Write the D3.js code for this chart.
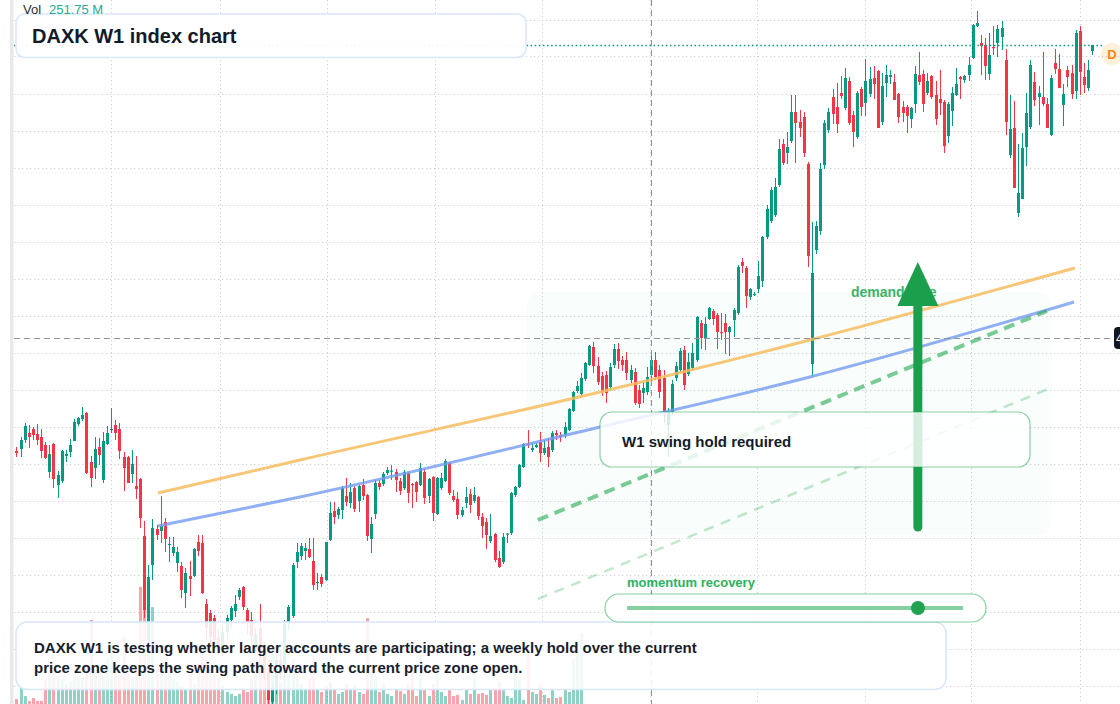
<!DOCTYPE html>
<html>
<head>
<meta charset="utf-8">
<script src="https://cdn.jsdelivr.net/npm/d3@7"></script>
<style>
  body { margin: 0; background: #fff; }
  svg { display: block; font-family: "Liberation Sans", Arial, sans-serif; }
</style>
</head>
<body>
<div id="container"></div>
<script>
let w = 1120;
let h = 704;

// weekly candles, first bar of the series
let startWeek = new Date(2019, 0, 21);

let opens = [
  369,371,380,387,391,386,383,375,348,376, 335,339,364,368,379,396,401,407,358,352,
  373,340,376,390,395,391,363,363,346,334, 341,284,180,255,291,289,298,275,267,257,
  254,227,244,244,278,277,216,207,202,182, 172,188,200,209,223,233,210,200,172,192,
  170,148,118,132,160,148,197,204,258,264, 269,271,259,237,243,240,280,309,305,310,
  324,317,332,319,335,325,281,306,337,336, 347,349,348,339,332,347,336,338,335,348,
  324,343,306,332,339,357,324,321,305,317, 326,319,323,303,298,279,286,262,258,286,
  287,325,333,353,376,370,373,378,367,373, 370,387,385,385,390,409,429,426,441,455,
  473,454,444,445,433,455,471,460,460,440, 448,430,427,428,445,460,450,442,395,408,
  442,450,470,446,452,460,497,482,501,509, 505,488,497,488,500,507,558,552,523,525.5,
  531,539,583,599,605,635,676,667,679,708, 698,703,656,456,570,589,655,690,723,713,
  727,712,739,705,683,731,717,726,742,749, 698,737,743,738,726,713,713,701,716,745,
  746,727,744,725,721,718,684,709,725,743, 740,745,762,794,777,775,746,773,777,783,
  760,665,692,607,621,673,693,738,723,723, 716,685,757,751,715,750,747,729,789,743,732,769
];
let highs = [
  373,383,397,395,393,396,391,378,375,377, 349,370,370,381,401,403,413,408,364,383,
  382,388,394,412,400,397,368,364,370,364, 342,299,255,301,295,324,302,283,283,273,
  258,252,259,272,285,285,221,210,205,190, 194,205,214,225,232,234,212,208,192,216,
  175,152,136,165,170,200,215,257,277,277, 277,282,282,247,246,278,318,318,313,334,
  342,337,334,335,341,326,303,340,340,348, 353,355,351,342,350,348,337,339,357,351,
  342,344,343,347,361,358,330,328,313,333, 331,333,324,307,302,306,287,269,287,287,
  328,334,356,377,390,377,377,388,380,382, 389,390,388,398,412,429,439,447,458,475,
  478,463,448,449,457,476,477,464,468,455, 452,435,438,453,465,468,455,450,412,440,
  458,472,474,467,477,504,500,503,513,511, 507,507,506,494,512,555,562,554,532,528,
  559,584,615,633,642,681,681,688,725,725, 710,708,658,598,599,657,700,712,731,737,
  744,752,743,709,729,733,761,753,754,750, 747,755,750,746,727,719,715,713,754,768,
  750,747,745,739,750,720,718,733,752,744, 745,763,796,809,785,782,787,794,795,799,
  771,725,719,676,687,727,760,748,734,768, 722,745,771,766,736,754,755,790,794,757,760,775
];
let lows = [
  363,363,377,372,380,375,362,361,342,332, 322,337,358,363,379,394,399,346,333,341,
  355,337,375,387,380,361,329,337,337,321, 292,202,170,240,280,277,268,258,264,248,
  222,212,224,243,264,226,180,172,170,165, 164,180,192,203,220,210,186,175,165,162,
  140,116,114,126,140,142,190,202,252,260, 260,262,230,230,233,239,279,296,301,301,
  314,312,308,308,320,279,267,301,330,334, 345,340,328,325,330,317,312,318,334,316,
  317,299,305,330,338,325,318,301,303,312, 307,317,300,282,271,277,258,252,256,277,
  285,323,332,352,372,368,372,358,365,353, 368,380,378,382,389,408,427,424,439,454,
  447,435,424,417,430,452,451,449,440,437, 415,412,417,425,436,440,422,397,363,405,
  439,448,430,444,449,458,471,470,500,495, 471,480,466,464,483,505,547,512,520,524,
  527,533,581,597,603,633,655,656,677,657, 683,663,553,443,566,585,651,687,696,687,
  721,710,695,673,681,704,704,723,721,692, 695,723,736,720,697,698,687,692,707,735,
  708,725,721,695,705,667,677,694,724,721, 737,739,761,793,745,740,740,765,763,770,
  685,662,632,603,621,654,691,714,695,714, 692,684,746,732,694,733,721,721,725,727,729,765
];
let closes = [
  367,380,394,383,385,380,369,362,366,341, 345,369,366,375,398,402,405,347,342,371,
  365,379,387,391,387,369,352,337,356,331, 302,210,243,292,285,294,281,276,273,268,
  230,247,241,271,269,227,192,183,180,174, 188,202,212,216,230,213,198,184,186,170,
  148,120,132,160,145,196,213,255,268,274, 272,263,235,238,236,278,307,303,311,332,
  318,328,311,334,324,284,296,337,333,346, 350,349.5,340,329,348,327,335,328,352,322,
  341,307,342,342,359,327,320,305,310,323, 315,325,304,294,285,284,260,253,283,286.5,
  327,333,355,376,375,372,375,367,372,363, 387,385,383,393,411,428,434,442,457,474,
  454,438,428,427,453,471,459,455,447,450, 417,416,432,443,460,443,428,408,408,436,
  454,469,435,458,467,503,482,496,512,501, 488,487,488,493,510,553,554,524,531,526,
  544,583,611,630,633,671,657,673,708,697, 692,667,564,547,594,651,697,708,706,696,
  724,742,697,688,727,713,739,741,736,692, 734,745,745,720,703,707,704,712,746,738,
  716,739,723,701,717,674,716,727,736,741, 744,755,795,797,774,754,765,772.5,791,792,
  698,691,632,627,672,707,755,720,727,716, 692,742,751,732,726,743,726,787,748,735,750,775
];
// volume in millions, only the older weeks carry volume in this feed
let volumes = [
  21,67,33,12,25,12,13,104,125,146, 117,104,83,92,125,117,112,167,350,146,
  133,117,188,250,167,146,279,125,104,158, 488,396,354,404,167,146,117,125,104,92,
  75,62,125,83,146,208,188,146,125,104, 75,50,42,33,42,62,50,104,125,250,
  167,188,208,83,92,117,125,188,104,83, 62,104,192,62,50,75,92,62,42,50,
  83,62,75,50,42,358,125,104,50,83, 42,33,62,54,42,83,129,33,204,62,
  33,83,167,50,33,58,33,38,17,58, 42,129,42,46,38,58,58,92,58,33,
  25,125,104,17,229,50,42,83,38,25, 58,25,29,62,50,188,229,296
];
let lastVolume = 251.75;

let gridPrices = [800.5,763.5,726.5,689.5,652.5,615.5,578.5,541.5,504.5,467.5,430.5,393.5,356.5,319.5,282.5,245.5,208.5,171.5,134.5];
let crossIndex = 154;
let crossPrice = 482;

// trend lines as [week index, price]
let upperTrend = [[34.35,327],[68.8,360],[141.6,428],[192.5,480],[256.8,552]];
let lowerTrend = [[34.35,294],[68.8,323],[141.6,393],[192.5,443],[256.6,518]];
let supportDash = [[126.5,300],[250,509]];
let supportThin = [[126.5,221],[250.3,431]];
let demandZone = {from: 123.9, to: 251.2, top: 528, bottom: 285};
let arrowIndex = 218.7;
let arrowFrom = 293;
let arrowTo = 558;
let momentum = 0.866;

let green = "#089981";
let red = "#f23645";

let dates = opens.map((d, i) => d3.timeDay.offset(startWeek, 7 * i));
function weekDate(idx) {
  return new Date(+startWeek + idx * 7 * 864e5);
}

let x = d3.scaleTime().domain([dates[0], dates[dates.length - 1]]).range([16.4, 1092.2]);
let y = d3.scaleLinear().domain([116, 820]).range([704, 0]);
let yVol = d3.scaleLinear().domain([0, 500]).range([704, 584]);

function getColor(d) {
  return d.c >= d.o ? green : red;
}

let viz = d3.select("#container").append("svg")
  .attr("width", w)
  .attr("height", h);

viz.append("rect").attr("width", w).attr("height", h).attr("fill", "#fff");
viz.append("rect").attr("x", 10).attr("y", 0).attr("width", 3.5).attr("height", h).attr("fill", "#e9e9ea");

// grid
viz.selectAll(".hgrid").data(gridPrices).enter().append("line")
  .attr("x1", 14).attr("x2", w)
  .attr("y1", d => Math.round(y(d)) + 0.5).attr("y2", d => Math.round(y(d)) + 0.5)
  .attr("stroke", "#cfd2d8").attr("stroke-dasharray", "1.3,2.7");
viz.selectAll(".vgrid").data(x.ticks(d3.timeMonth.every(6))).enter().append("line")
  .attr("x1", d => Math.round(x(d)) + 0.5).attr("x2", d => Math.round(x(d)) + 0.5)
  .attr("y1", 0).attr("y2", h)
  .attr("stroke", "#cfd2d8").attr("stroke-dasharray", "1.3,2.7");

// demand zone
viz.append("rect")
  .attr("x", x(weekDate(demandZone.from))).attr("y", y(demandZone.top))
  .attr("width", x(weekDate(demandZone.to)) - x(weekDate(demandZone.from)))
  .attr("height", y(demandZone.bottom) - y(demandZone.top))
  .attr("rx", 14)
  .attr("fill", "rgba(34,197,94,0.028)");

let candles = dates.map((d, i) => ({date: d, o: opens[i], h: highs[i], l: lows[i], c: closes[i], v: volumes[i]}));

// volume
viz.selectAll(".vol").data(candles.filter(d => d.v != undefined)).enter().append("rect")
  .attr("x", d => Math.round(x(d.date)) - 1).attr("width", 3)
  .attr("y", d => yVol(d.v)).attr("height", d => h - yVol(d.v))
  .attr("fill", getColor).attr("opacity", 0.45);

// candles
viz.selectAll(".wick").data(candles).enter().append("line")
  .attr("x1", d => Math.round(x(d.date)) + 0.5).attr("x2", d => Math.round(x(d.date)) + 0.5)
  .attr("y1", d => y(d.h)).attr("y2", d => y(d.l))
  .attr("stroke", getColor).attr("stroke-width", 1);
viz.selectAll(".body").data(candles).enter().append("rect")
  .attr("x", d => Math.round(x(d.date)) - 1).attr("width", 3)
  .attr("y", d => y(Math.max(d.o, d.c)))
  .attr("height", d => Math.max(1.2, Math.abs(y(d.o) - y(d.c))))
  .attr("fill", getColor);

// trend lines
let trendLine = d3.line().x(d => x(weekDate(d[0]))).y(d => y(d[1])).curve(d3.curveMonotoneX);
viz.append("path").attr("d", trendLine(upperTrend)).attr("fill", "none")
  .attr("stroke", "rgb(247,188,95)").attr("stroke-opacity", 0.85).attr("stroke-width", 3);
viz.append("path").attr("d", trendLine(lowerTrend)).attr("fill", "none")
  .attr("stroke", "rgb(118,155,240)").attr("stroke-opacity", 0.8).attr("stroke-width", 3);
viz.append("path").attr("d", trendLine(supportDash)).attr("fill", "none")
  .attr("stroke", "rgba(34,170,80,0.6)").attr("stroke-width", 4).attr("stroke-dasharray", "11,7");
viz.append("path").attr("d", trendLine(supportThin)).attr("fill", "none")
  .attr("stroke", "rgba(34,170,80,0.28)").attr("stroke-width", 2.5).attr("stroke-dasharray", "10,8");

// crosshair
viz.append("line")
  .attr("x1", 14).attr("x2", w - 6)
  .attr("y1", Math.round(y(crossPrice)) + 0.5).attr("y2", Math.round(y(crossPrice)) + 0.5)
  .attr("stroke", "#8f939b").attr("stroke-dasharray", "6,4");
viz.append("line")
  .attr("x1", Math.round(x(dates[crossIndex])) + 0.5).attr("x2", Math.round(x(dates[crossIndex])) + 0.5)
  .attr("y1", 0).attr("y2", h)
  .attr("stroke", "#8f939b").attr("stroke-dasharray", "6,4");

// last price line
let lastClose = closes[closes.length - 1];
viz.append("line")
  .attr("x1", 14).attr("x2", 1104)
  .attr("y1", Math.round(y(lastClose)) + 0.5).attr("y2", Math.round(y(lastClose)) + 0.5)
  .attr("stroke", green).attr("stroke-width", 1.3).attr("stroke-dasharray", "1.5,2.6");

// demand side label + arrow
let ax = x(weekDate(arrowIndex));
viz.append("text").attr("x", 851).attr("y", 297)
  .attr("font-size", 14).attr("font-weight", "bold").attr("fill", "#3ab566")
  .text("demand side");
viz.append("line")
  .attr("x1", ax).attr("x2", ax)
  .attr("y1", y(arrowFrom)).attr("y2", y(arrowTo) + 40)
  .attr("stroke", "#1c9f4c").attr("stroke-width", 9).attr("stroke-linecap", "round");
viz.append("path")
  .attr("d", "M" + ax + "," + y(arrowTo) + " L" + (ax - 20.5) + "," + (y(arrowTo) + 44) + " L" + (ax + 20.5) + "," + (y(arrowTo) + 44) + " Z")
  .attr("fill", "#1c9f4c");

// callout boxes
viz.append("rect").attr("x", 600).attr("y", 412).attr("width", 430).attr("height", 55).attr("rx", 12)
  .attr("fill", "rgba(255,255,255,0.82)").attr("stroke", "rgba(34,160,75,0.5)").attr("stroke-width", 1.2);
viz.append("text").attr("x", 622).attr("y", 447)
  .attr("font-size", 15).attr("font-weight", "bold").attr("fill", "#141b2b")
  .text("W1 swing hold required");

viz.append("rect").attr("x", 16).attr("y", 14).attr("width", 510).attr("height", 43.5).attr("rx", 9)
  .attr("fill", "rgba(255,255,255,0.94)").attr("stroke", "#d9e6fb").attr("stroke-width", 1.5);
viz.append("text").attr("x", 32).attr("y", 43)
  .attr("font-size", 20).attr("font-weight", "bold").attr("fill", "#131a2a")
  .text("DAXK W1 index chart");

viz.append("rect").attr("x", 16).attr("y", 622).attr("width", 930).attr("height", 67.5).attr("rx", 11)
  .attr("fill", "rgba(255,255,255,0.88)").attr("stroke", "#d9e6fb").attr("stroke-width", 1.5);
viz.append("text").attr("x", 34).attr("y", 653)
  .attr("font-size", 15).attr("font-weight", "bold").attr("fill", "#171e2d")
  .text("DAXK W1 is testing whether larger accounts are participating; a weekly hold over the current");
viz.append("text").attr("x", 34).attr("y", 673)
  .attr("font-size", 15).attr("font-weight", "bold").attr("fill", "#171e2d")
  .text("price zone keeps the swing path toward the current price zone open.");

// momentum slider
let slider = d3.scaleLinear().domain([0, 1]).range([627, 963]);
viz.append("text").attr("x", 627).attr("y", 587)
  .attr("font-size", 13).attr("font-weight", "bold").attr("fill", "#2fb15c")
  .text("momentum recovery");
viz.append("rect").attr("x", 605).attr("y", 594).attr("width", 381).attr("height", 28).attr("rx", 14)
  .attr("fill", "rgba(255,255,255,0.92)").attr("stroke", "rgba(34,170,80,0.55)").attr("stroke-width", 1.2);
viz.append("line").attr("x1", slider(0)).attr("x2", slider(1)).attr("y1", 608).attr("y2", 608)
  .attr("stroke", "#86d09f").attr("stroke-width", 4);
viz.append("circle").attr("cx", slider(momentum)).attr("cy", 608).attr("r", 7).attr("fill", "#22a24f");

// volume legend
viz.append("text").attr("x", 23).attr("y", 14).attr("font-size", 13).attr("fill", "#2a2e39").text("Vol");
viz.append("text").attr("x", 49).attr("y", 14).attr("font-size", 13).attr("fill", "#22ab94").text(lastVolume.toFixed(2) + " M");

// D badge and price tag (tag runs off the right edge like the crosshair label)
viz.append("circle").attr("cx", 1112).attr("cy", 54).attr("r", 11).attr("fill", "rgba(255,152,0,0.14)");
viz.append("text").attr("x", 1112).attr("y", 59).attr("text-anchor", "middle")
  .attr("font-size", 13).attr("font-weight", "bold").attr("fill", "#f5870f").text("D");
viz.append("rect").attr("x", 1114).attr("y", y(crossPrice) - 11).attr("width", 50).attr("height", 22).attr("rx", 4).attr("fill", "#131722");
viz.append("text").attr("x", 1116).attr("y", y(crossPrice) + 4.5).attr("font-size", 12).attr("fill", "#fff").text(crossPrice.toFixed(2));
</script>
</body>
</html>
